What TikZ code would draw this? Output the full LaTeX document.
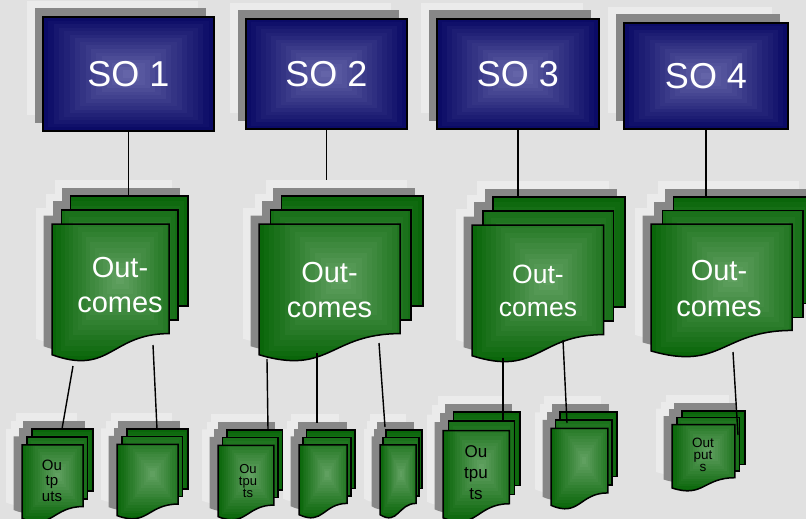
\documentclass[tikz,border=0pt]{standalone}
\usepackage{fontspec}
\setmainfont{Liberation Sans}
\usetikzlibrary{calc}

\definecolor{bgC}{HTML}{E1E1E1}
\definecolor{haloC}{HTML}{EBEBEB}
\definecolor{shadowC}{HTML}{878787}
\definecolor{navyE}{HTML}{0B0B66}
\definecolor{navyC}{HTML}{6464A8}
\definecolor{greenE}{HTML}{0A660A}
\definecolor{greenC}{HTML}{60A060}

% rectangular (pyramid) gradient between two named corners, in bands
\newcommand\nestfill[4]{%
  \foreach \k in {0,...,15}{%
    \pgfmathtruncatemacro\nfp{100*\k/15}%
    \fill[#4!\nfp!#3] ($(#1)!\k/32!(#2)$) rectangle ($(#2)!\k/32!(#1)$);
  }}

% strategic objective box: name, cx, cy, w, h, text
\newcommand\sobox[6]{%
  \coordinate (#1-sw) at ({#2-#4/2},{#3+#5/2});
  \coordinate (#1-ne) at ({#2+#4/2},{#3-#5/2});
  \fill[haloC] ([shift={(-16,-16)}]#1-sw) rectangle ([shift={(-16,-16)}]#1-ne);
  \fill[shadowC] ([shift={(-8.5,-8.5)}]#1-sw) rectangle ([shift={(-8.5,-8.5)}]#1-ne);
  \nestfill{#1-sw}{#1-ne}{navyE}{navyC}
  \node[sonode, minimum width=#4pt, minimum height=#5pt] (#1) at (#2,#3) {#6};
}

% stack of three document pages: name, x0, y0, W, H
\newcommand\multidoc[5]{%
  \pgfmathsetmacro\mdxa{#2+0.0709*#4}%
  \pgfmathsetmacro\mdxb{#2+0.1376*#4}%
  \pgfmathsetmacro\mdxc{#2+0.861*#4}%
  \pgfmathsetmacro\mdxd{#2+0.926*#4}%
  \pgfmathsetmacro\mdxe{#2+#4}%
  \pgfmathsetmacro\mdxm{#2+0.4305*#4}%
  \pgfmathsetmacro\mdya{#3+0.170*#5}%
  \pgfmathsetmacro\mdyb{#3+0.084*#5}%
  \pgfmathsetmacro\mdyc{#3+0.834*#5}%
  \pgfmathsetmacro\mdyd{#3+1.090*#5}%
  \pgfmathsetmacro\mdye{#3+0.962*#5}%
  \pgfmathsetmacro\mdyf{#3+0.752*#5}%
  \pgfmathsetmacro\mdyg{#3+0.666*#5}%
  \pgfmathsetmacro\mdyh{#3+#5}%
  \coordinate (#1-sw) at (#2,\mdyh);
  \coordinate (#1-ne) at (\mdxe,#3);
  \def\mdback{(\mdxb,#3) rectangle (\mdxe,\mdyg)}%
  \def\mdmid{(\mdxa,\mdyb) rectangle (\mdxd,\mdyf)}%
  \def\mdfront{(#2,\mdya) -- (\mdxc,\mdya) -- (\mdxc,\mdyc) .. controls (\mdxm,\mdyc) and (\mdxm,\mdyd) .. (#2,\mdye) -- cycle}%
  \begin{scope}[shift={(-16,-16)}]
    \fill[haloC] \mdback; \fill[haloC] \mdmid; \fill[haloC] \mdfront;
  \end{scope}
  \begin{scope}[shift={(-8.5,-8.5)}]
    \fill[shadowC] \mdback; \fill[shadowC] \mdmid; \fill[shadowC] \mdfront;
  \end{scope}
  \begin{scope}\clip \mdback; \nestfill{#1-sw}{#1-ne}{greenE}{greenC}\end{scope}
  \draw[page] \mdback;
  \begin{scope}\clip \mdmid; \nestfill{#1-sw}{#1-ne}{greenE}{greenC}\end{scope}
  \draw[page] \mdmid;
  \begin{scope}\clip \mdfront; \nestfill{#1-sw}{#1-ne}{greenE}{greenC}\end{scope}
  \draw[page] \mdfront;
}

\begin{document}
\begin{tikzpicture}[x=1pt, y=-1pt,
  sonode/.style={draw=black, line width=1.5pt, inner sep=0pt, outer sep=0pt,
    text=white, font=\fontsize{36}{40}\selectfont},
  page/.style={draw=black, line width=1.5pt, line join=miter},
  conn/.style={draw=black, line width=1.4pt},
  bigtext/.style={text=white, align=center, inner sep=0pt},
  smalltext/.style={text=black, align=center, inner sep=0pt}]

\useasboundingbox (0,0) rectangle (806,519);
\clip (0,0) rectangle (806,519);
\fill[bgC] (0,0) rectangle (806,519);

% strategic objectives
\sobox{so1}{128.5}{74}{171}{114}{SO 1}
\sobox{so2}{326.5}{74}{161}{110}{SO 2}
\sobox{so3}{518}{74}{162}{110}{SO 3}
\sobox{so4}{706}{76}{164}{106}{SO 4}

% this link sits beneath the second stack
\coordinate (so2end) at (326.5,196);
\draw[conn] (so2.south) -- (so2end);

% outcome stacks
\multidoc{oc1}{52}{196}{136}{165}
\node[bigtext, font=\fontsize{29}{35}\selectfont] (oct1) at (120,285) {Out-\\comes};
\multidoc{oc2}{259}{196}{164}{165}
\node[bigtext, font=\fontsize{29}{35}\selectfont] (oct2) at (329.5,290) {Out-\\comes};
\multidoc{oc3}{472}{197}{153}{165}
\node[bigtext, font=\fontsize{26.5}{33}\selectfont] (oct3) at (538,290.5) {Out-\\comes};
\multidoc{oc4}{651}{197}{164}{160}
\node[bigtext, font=\fontsize{29}{36}\selectfont] (oct4) at (719,289) {Out-\\comes};

\draw[conn] (so1.south) -- (so1.south |- oc1-ne);
\draw[conn] (so3.south) -- (so3.south |- oc3-ne);
\draw[conn] (so4.south) -- (so4.south |- oc4-ne);

% output stacks
\multidoc{opA}{22}{429}{71}{93}
\node[smalltext, font=\fontsize{15}{15.5}\selectfont] (opAt) at (52,480.5) {Ou\\tp\\uts};
\multidoc{opB}{117}{429}{71}{90}
\multidoc{opC}{218}{430}{65}{90}
\node[smalltext, font=\fontsize{13}{12}\selectfont] (opCt) at (248,481) {Ou\\tpu\\ts};
\multidoc{opD}{299}{430}{56}{88}
\multidoc{opE}{380}{430}{42}{88}
\multidoc{opF}{443}{412}{77}{110}
\node[smalltext, font=\fontsize{17}{21}\selectfont] (opFt) at (476,473) {Ou\\tpu\\ts};
\multidoc{opG}{551}{412}{66}{97}
\multidoc{opH}{672}{411}{73}{80}
\node[smalltext, font=\fontsize{13.5}{12}\selectfont] (opHt) at (703,455) {Out\\put\\s};

% links from outcomes to outputs
\coordinate (lA1) at (73,366);  \coordinate (lA2) at (62,429);
\coordinate (lB1) at (153,345); \coordinate (lB2) at (157,429);
\coordinate (lC1) at (267,359); \coordinate (lC2) at (268,430);
\coordinate (lD1) at (317,353); \coordinate (lD2) at (317,423);
\coordinate (lE1) at (379,343); \coordinate (lE2) at (385,427);
\coordinate (lF1) at (503,358); \coordinate (lF2) at (503,422);
\coordinate (lG1) at (563,340); \coordinate (lG2) at (567,423);
\coordinate (lH1) at (733,352); \coordinate (lH2) at (738,435);
\foreach \s in {A,B,C,D,E,F,G,H}{\draw[conn] (l\s1) -- (l\s2);}

\end{tikzpicture}
\end{document}
